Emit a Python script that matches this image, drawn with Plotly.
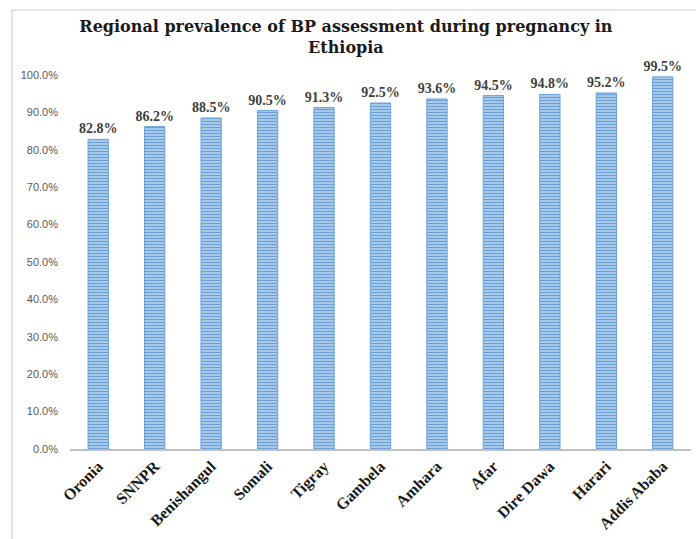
import plotly.graph_objects as go

regions = ["Oronia", "SNNPR", "Benishangul", "Somali", "Tigray", "Gambela",
           "Amhara", "Afar", "Dire Dawa", "Harari", "Addis Ababa"]
prevalence = [0.828, 0.862, 0.885, 0.905, 0.913, 0.925, 0.936, 0.945, 0.948, 0.952, 0.995]
y_ticks = [0.0, 0.1, 0.2, 0.3, 0.4, 0.5, 0.6, 0.7, 0.8, 0.9, 1.0]
title_text = "Regional prevalence of BP assessment during pregnancy in<br>Ethiopia"

W, H = 696, 539
ml, mr, mt, mb = 70, 5, 75, 90
pw, ph = W - ml - mr, H - mt - mb

fig = go.Figure(go.Bar(
    x=regions,
    y=prevalence,
    text=[f"{v*100:.1f}%" for v in prevalence],
    textposition="outside",
    constraintext="none",
    cliponaxis=False,
    textfont=dict(family="Liberation Serif", size=14, color="#404040", weight="bold"),
    marker=dict(
        color="#A9CBEB",
        line=dict(color="#6FA3D8", width=1),
        pattern=dict(shape="-", size=3, solidity=0.45,
                     fgcolor="#6A9FD6", bgcolor="#B3D1EE", fillmode="replace"),
    ),
    width=0.36,
))

# outer chart border (top and left visible)
x0 = (12 - ml) / pw
x1 = (W + 5 - ml) / pw
y1 = (H - mb - 10) / ph
y0 = (H - mb - (H + 5)) / ph
fig.add_shape(type="rect", xref="paper", yref="paper", x0=x0, x1=x1, y0=y0, y1=y1,
              line=dict(color="#D9D9D9", width=1.5), fillcolor="rgba(0,0,0,0)", layer="below")

fig.update_layout(
    width=W, height=H,
    margin=dict(l=ml, r=mr, t=mt, b=mb),
    paper_bgcolor="white", plot_bgcolor="white",
    showlegend=False,
    bargap=0.64,
    title=dict(text=title_text, x=0.497, xanchor="center", y=1 - 32 / H, yanchor="top",
               font=dict(family="DejaVu Serif", size=16, color="#1a1a1a", weight="bold")),
    xaxis=dict(
        showline=True, linecolor="#BFBFBF", linewidth=1.5,
        ticks="", tickangle=-45,
        tickfont=dict(family="Liberation Serif", size=16, color="#1a1a1a", weight="bold"),
        showgrid=False,
    ),
    yaxis=dict(
        range=[0, 1.0], tickvals=y_ticks, tickformat=".1%",
        showgrid=False, zeroline=False, showline=False, ticks="",
        tickfont=dict(family="Liberation Sans", size=11, color="#595959"),
        ticklabelstandoff=11,
    ),
)

fig.write_html("out.html")
